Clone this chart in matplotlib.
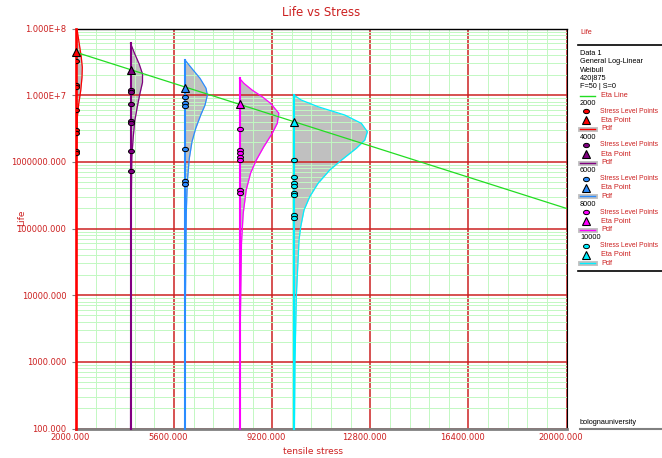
import numpy as np
import matplotlib
matplotlib.use('Agg')
import matplotlib.pyplot as plt
import matplotlib.transforms as mtransforms
from matplotlib.lines import Line2D
from matplotlib.path import Path
from matplotlib.ticker import LogLocator

plt.rcParams['font.family'] = 'DejaVu Sans'

# stress levels and Weibull eta points
stress = [2000, 4000, 6000, 8000, 10000]
colors = ['#ff0000', '#800080', '#2a8cff', '#ff00ff', '#00f0ff']
eta = [4.4e7, 2.38e7, 1.29e7, 7.3e6, 3.98e6]

# failure times (stress level points)
pts_2000 = [3.29e7, 1.44e7, 1.31e7, 5.99e6, 3.0e6, 2.73e6, 1.47e6, 1.34e6]
pts_4000 = [1.21e7, 1.10e7, 7.36e6, 4.05e6, 3.78e6, 1.47e6, 7.36e5]
pts_6000 = [9.48e6, 7.63e6, 6.87e6, 1.57e6, 5.12e5, 4.6e5]
pts_8000 = [3.08e6, 1.50e6, 1.34e6, 1.18e6, 1.05e6, 3.78e5, 3.41e5]
pts_10000 = [1.06e6, 5.98e5, 4.81e5, 4.34e5, 3.41e5, 3.18e5, 1.62e5, 1.46e5]
points = [pts_2000, pts_4000, pts_6000, pts_8000, pts_10000]

# pdf curves: life value and width of the curve (in stress units)
pdf_life_2000 = [1.0e8, 5.85e7, 3.70e7, 2.62e7, 1.85e7, 1.17e7, 7.36e6, 4.66e6, 1.06e6, 100]
pdf_w_2000 = [35, 121, 195, 231, 220, 173, 99, 48, 15, 1]
pdf_life_4000 = [6.0e7, 4.14e7, 2.93e7, 2.08e7, 1.56e7, 1.04e7, 6.58e6, 4.14e6, 2.33e6, 1.17e6, 4.76e4, 100]
pdf_w_4000 = [0, 158, 320, 441, 441, 342, 246, 158, 99, 48, 11, 2]
pdf_life_6000 = [3.37e7, 2.53e7, 1.79e7, 1.27e7, 1.00e7, 7.11e6, 5.04e6, 3.18e6, 2.01e6, 1.13e6,
                 5.04e5, 1.79e5, 8.5e3, 100]
pdf_w_6000 = [0, 246, 551, 772, 819, 735, 577, 393, 257, 158, 85, 48, 15, 3]
pdf_life_8000 = [1.79e7, 1.51e7, 1.19e7, 9.48e6, 7.55e6, 5.35e6, 3.78e6, 2.68e6, 1.69e6, 1.06e6,
                 6.73e5, 3.78e5, 1.69e5, 6.0e4, 3.0e3, 100]
pdf_w_8000 = [0, 158, 467, 834, 1139, 1444, 1385, 1201, 893, 614, 404, 246, 136, 73, 26, 5]
pdf_life_10000 = [1.0e7, 8.45e6, 6.71e6, 5.04e6, 3.78e6, 2.83e6, 2.12e6, 1.60e6, 1.06e6, 7.54e5,
                  4.76e5, 3.0e5, 1.89e5, 1.06e5, 6.72e4, 9.5e3, 1.06e3, 100]
pdf_w_10000 = [0, 268, 882, 1863, 2473, 2693, 2598, 2289, 1738, 1312, 882, 577, 367, 246, 184,
               85, 37, 15]
pdf_life = [pdf_life_2000, pdf_life_4000, pdf_life_6000, pdf_life_8000, pdf_life_10000]
pdf_w = [pdf_w_2000, pdf_w_4000, pdf_w_6000, pdf_w_8000, pdf_w_10000]

eta_line_x = [2000, 20000]
eta_line_y = [4.4e7, 2.0e5]

x_ticks = [2000, 5600, 9200, 12800, 16400, 20000]
x_labels = ['2000.000', '5600.000', '9200.000', '12800.000', '16400.000', '20000.000']
y_ticks = [1e2, 1e3, 1e4, 1e5, 1e6, 1e7, 1e8]
y_labels = ['100.000', '1000.000', '10000.000', '100000.000', '1000000.000', '1.000E+7', '1.000E+8']

RED = '#cc2020'
W, H = 662, 458

fig = plt.figure(figsize=(W / 100, H / 100), dpi=100)
ax = fig.add_axes([76 / W, 1 - 428.5 / H, 490.5 / W, 400 / H])
ax.set_yscale('log')
ax.set_xlim(2000, 20000)
ax.set_ylim(100, 1e8)

ax.set_xticks(x_ticks)
ax.set_xticklabels(x_labels)
ax.set_xticks(np.arange(2000, 20001, 720), minor=True)
ax.set_yticks(y_ticks)
ax.set_yticklabels(y_labels)
ax.yaxis.set_minor_locator(LogLocator(base=10, subs=np.arange(2, 10), numticks=20))
ax.yaxis.set_minor_formatter(plt.NullFormatter())

ax.set_axisbelow(True)
ax.grid(which='minor', color='#c2f8c2', lw=0.7)
ax.grid(which='major', color='#cc2222', lw=1.1)
ax.tick_params(which='minor', length=0)
ax.tick_params(axis='y', which='major', length=3, color='#808080', labelsize=6,
               labelcolor=RED, pad=4)
ax.tick_params(axis='x', which='major', length=0, labelsize=6, labelcolor=RED, pad=3)
offset = mtransforms.ScaledTranslation(-0.06, 0, fig.dpi_scale_trans)
for lab in ax.get_xticklabels():
    lab.set_transform(lab.get_transform() + offset)

ax.spines['left'].set_visible(False)
ax.spines['top'].set_color('black')
ax.spines['top'].set_linewidth(1)
ax.spines['right'].set_color('black')
ax.spines['right'].set_linewidth(0.8)
ax.spines['bottom'].set_color('#808080')
ax.spines['bottom'].set_linewidth(2)

ell = Path.unit_circle().transformed(mtransforms.Affine2D().scale(1.0, 0.72))

for i, s in enumerate(stress):
    c = colors[i]
    life = np.array(pdf_life[i])
    xs = s + np.array(pdf_w[i])
    ax.fill_betweenx(life, s, xs, color='#c0c0c0', lw=0, zorder=0.3)
    ax.plot(xs, life, color=c, lw=0.9, zorder=3)
    ax.plot([s, s], [100, life[0]], color=c, lw=1.9 if i == 0 else 1.5, zorder=3, clip_on=False)
    ax.plot([s] * len(points[i]), points[i], ls='none', marker=ell, ms=4.3, mfc=c,
            mec='black', mew=0.7, zorder=5)
    ax.plot(s, eta[i], ls='none', marker='^', ms=5.5, mfc=c, mec='black', mew=0.8,
            zorder=6, clip_on=False)

ax.plot(eta_line_x, eta_line_y, color='#22dd22', lw=0.9, zorder=4)

fig.text(321 / W, 1 - 12 / H, 'Life vs Stress', color=RED, fontsize=8.5, ha='center', va='center')
fig.text(313 / W, 1 - 451 / H, 'tensile stress', color=RED, fontsize=6.5, ha='center', va='center')
fig.text(22 / W, 1 - 218 / H, 'Life', color=RED, fontsize=6.5, rotation=90, ha='center', va='center')


# legend panel drawn by hand
def ftext(x, y, s, color='black', size=5.3):
    fig.text(x / W, 1 - y / H, s, color=color, fontsize=size, family='Liberation Sans',
             ha='left', va='center')


def fline(x0, x1, y, **kw):
    fig.add_artist(Line2D([x0 / W, x1 / W], [1 - y / H, 1 - y / H], transform=fig.transFigure, **kw))


def fmark(x, y, **kw):
    fig.add_artist(Line2D([x / W], [1 - y / H], transform=fig.transFigure, ls='none', **kw))


ftext(580, 33, 'Life', RED)
fline(578, 662, 45, color='black', lw=1.2)
for k, s in enumerate(['Data 1', 'General Log-Linear', 'Weibull', '420|875', 'F=50 | S=0']):
    ftext(580, 53.5 + k * 8.3, s)
fline(580, 595, 95.5, color='#22dd22', lw=1)
ftext(601, 95.5, 'Eta Line', RED)
for i, s in enumerate(stress):
    y0 = 103.5 + i * 33.6
    c = colors[i]
    ftext(580, y0, str(s))
    fmark(586, y0 + 7.8, marker=ell, ms=4.3, mfc=c, mec='black', mew=0.7)
    ftext(600, y0 + 7.8, 'Stress Level Points', RED, size=4.9)
    fmark(586, y0 + 17, marker='^', ms=5.5, mfc=c, mec='black', mew=0.8)
    ftext(601, y0 + 17, 'Eta Point', RED)
    fline(580, 595, y0 + 25.5, color='#c0c0c0', lw=3.5)
    fline(580, 595, y0 + 25.5, color=c, lw=1)
    ftext(601, y0 + 25.5, 'Pdf', RED)
fline(578, 662, 271, color='black', lw=1.2)
ftext(580, 423, 'bolognauniversity')
fline(580, 662, 429, color='#808080', lw=1.5)

plt.savefig('out.png', dpi=100)
